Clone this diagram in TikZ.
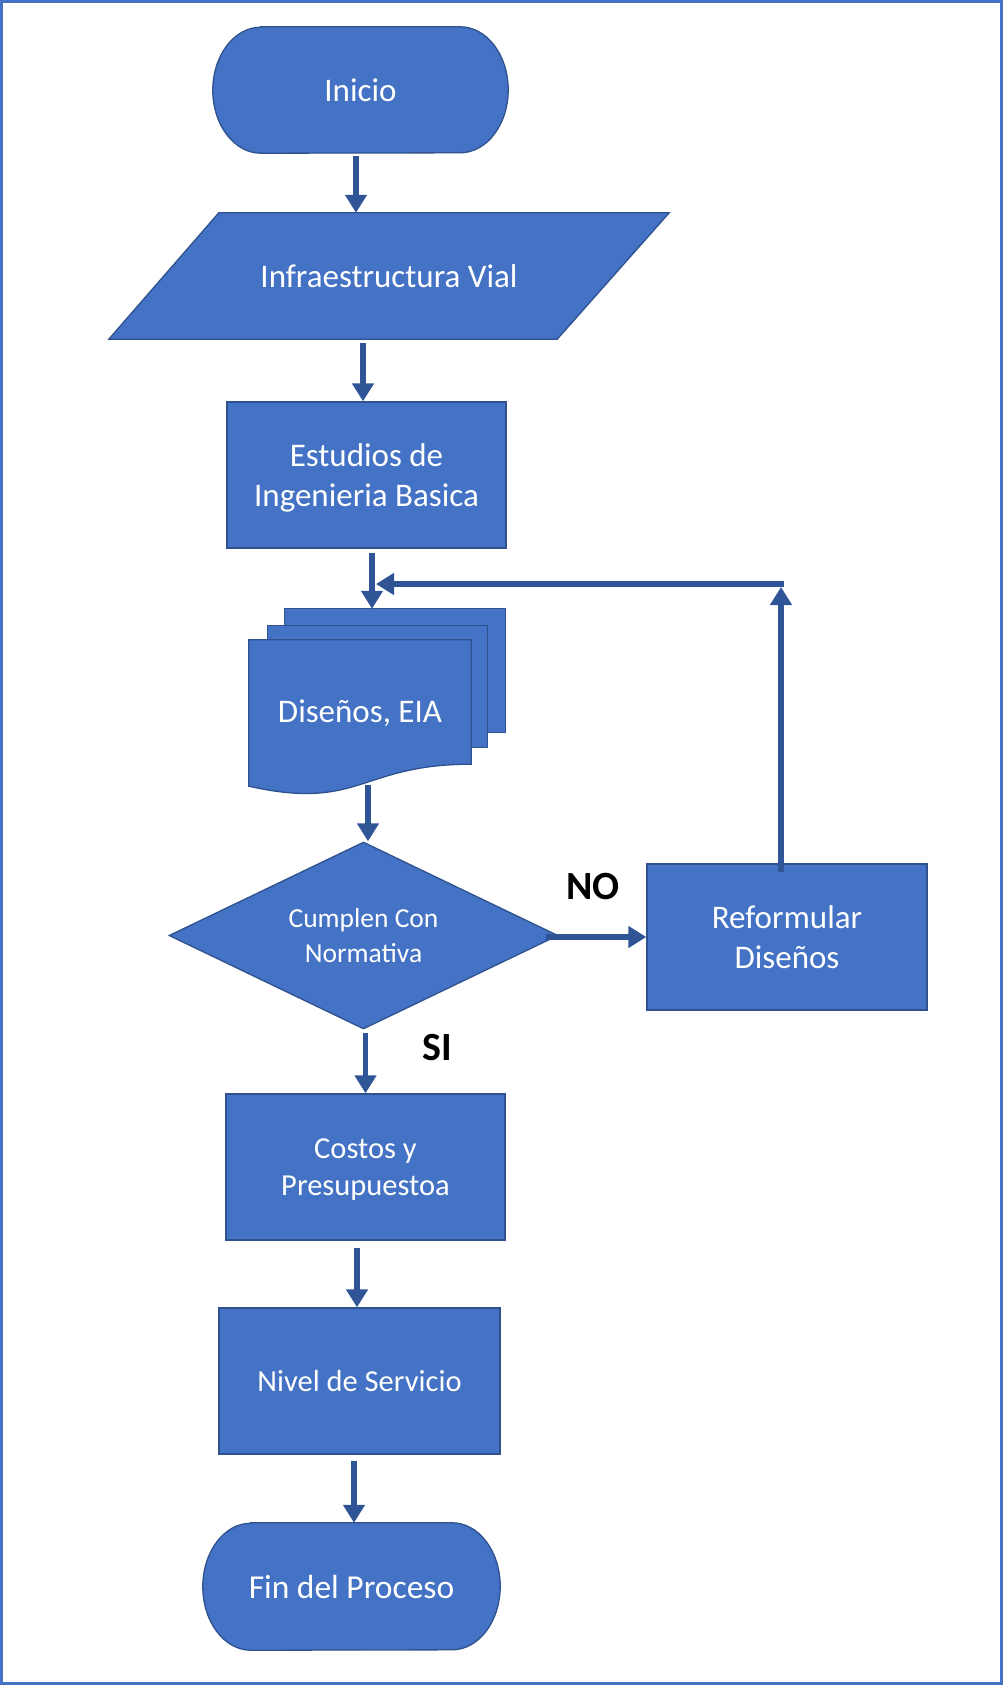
\documentclass[tikz,border=0pt]{standalone}
\usepackage{fontspec}
\setmainfont{Carlito}
\usetikzlibrary{arrows.meta,shapes.geometric,calc,backgrounds}
\definecolor{boxfill}{HTML}{4472C4}
\definecolor{boxline}{HTML}{2F528F}
\definecolor{arrowc}{HTML}{2F5597}
\definecolor{framec}{HTML}{4472C4}
\begin{document}
\begin{tikzpicture}[x=1pt,y=-1pt,
  shapefill/.style={fill=boxfill, draw=boxline, line width=1.3pt},
  procbox/.style={rectangle, shapefill, text=white, inner sep=0pt, align=center},
  txtnode/.style={rectangle, inner sep=0pt, text=white, align=center},
  bigtext/.style={font=\fontsize{33}{40}\selectfont},
  midtext/.style={font=\fontsize{30.5}{36.5}\selectfont},
  arr/.style={draw=arrowc, line width=5.5pt, -{Triangle[length=18pt,width=21pt]}},
  lbl/.style={font=\fontsize{40}{46}\selectfont\bfseries, text=black, inner sep=0pt}
]
\useasboundingbox (0,0) rectangle (1003,1685);
\draw[framec, line width=2.5pt] (1.5,1.5) rectangle (1001.5,1683.5);

% nodes
\node[txtnode, bigtext, minimum width=295pt, minimum height=126pt] (ini) at (360.5,90) {Inicio};
\node[txtnode, bigtext, minimum width=560pt, minimum height=126pt] (par) at (389,276) {Infraestructura Vial};
\node[procbox, bigtext, text depth=0pt, minimum width=279pt, minimum height=146pt] (est) at (366.5,475) {Estudios de\\Ingenieria Basica};
\node[txtnode, bigtext, minimum width=222pt, minimum height=146pt] (doc) at (360,713) {Diseños, EIA};
\node[diamond, aspect=2, shapefill, text=white, inner sep=0pt, align=center, minimum width=389pt, minimum height=187pt, font=\fontsize{27.5}{34.5}\selectfont] (dia) at (363.5,935.5) {Cumplen Con\\Normativa};
\node[procbox, bigtext, minimum width=280pt, minimum height=146pt] (ref) at (787,937) {Reformular\\Diseños};
\node[procbox, midtext, text depth=0pt, minimum width=279pt, minimum height=146pt] (cos) at (365.5,1167) {Costos y\\Presupuestoa};
\node[procbox, midtext, minimum width=281pt, minimum height=146pt] (niv) at (359.5,1381) {Nivel de Servicio};
\node[txtnode, font=\fontsize{33.5}{40}\selectfont, minimum width=297pt, minimum height=127pt] (fin) at (351.5,1586.5) {Fin del Proceso};

\begin{scope}[on background layer]
  % terminator Inicio
  \path[shapefill] ($(ini.north west)+(48pt,0)$) -- ($(ini.north east)+(-48pt,0)$)
    arc[start angle=90, end angle=-90, x radius=48pt, y radius=63pt]
    -- ($(ini.south west)+(48pt,0)$)
    arc[start angle=270, end angle=90, x radius=48pt, y radius=63pt] -- cycle;
  % parallelogram
  \path[shapefill] ($(par.north west)+(110pt,0)$) -- (par.north east)
    -- ($(par.south east)+(-112pt,0)$) -- (par.south west) -- cycle;
  % multidocument
  \path[shapefill] ($(doc.north west)+(36pt,31pt)$) rectangle ($(doc.north east)+(34pt,-93pt)$);
  \path[shapefill] ($(doc.north west)+(19pt,14pt)$) rectangle ($(doc.north east)+(16pt,-108pt)$);
  \path[shapefill] (doc.north west) -- (doc.north east) -- ($(doc.south east)+(0,22pt)$)
    .. controls ($(doc.south)+(0,22pt)$) and ($(doc.south)+(0,-25pt)$) .. (doc.south west) -- cycle;
  % terminator Fin
  \path[shapefill] ($(fin.north west)+(48pt,0)$) -- ($(fin.north east)+(-48pt,0)$)
    arc[start angle=90, end angle=-90, x radius=48pt, y radius=63.5pt]
    -- ($(fin.south west)+(48pt,0)$)
    arc[start angle=270, end angle=90, x radius=48pt, y radius=63.5pt] -- cycle;
\end{scope}

% helper coordinates
\coordinate (docin) at ($(doc.north)+(12pt,31pt)$);
\coordinate (corner) at (781,584);

% connectors
\draw[arr] ($(ini.south)+(-4.5pt,-3pt)$) -- ($(ini.south |- par.north)+(-4.5pt,0)$);
\draw[arr] ($(est.north |- par.south)+(-3.5pt,-4pt)$) -- ($(est.north)+(-3.5pt,0)$);
\draw[arr] ($(docin |- est.south)+(0,-4pt)$) -- (docin);
\draw[arr] ($(doc.south)+(8pt,1pt)$) -- ($(dia.north)+(4.5pt,0)$);
\draw[arr] ($(ref.west -| dia.east)+(-13pt,0)$) -- (ref.west);
\draw[arr] ($(ref.north)+(-6pt,-9pt)$) -- ($(corner)+(0,-3pt)$);
\draw[arr] ($(corner)+(3pt,0)$) -- ($(corner -| docin)+(4pt,0)$);
\draw[arr] ($(cos.north |- dia.south)+(0,-3pt)$) -- (cos.north);
\draw[arr] ($(niv.north |- cos.south)+(-2.5pt,-7pt)$) -- ($(niv.north)+(-2.5pt,0)$);
\draw[arr] ($(fin.north |- niv.south)+(2.5pt,-6pt)$) -- ($(fin.north)+(2.5pt,0)$);

% labels
\node[lbl] (no) at (593,887) {NO};
\node[lbl] (si) at (437,1048) {SI};
\end{tikzpicture}
\end{document}
